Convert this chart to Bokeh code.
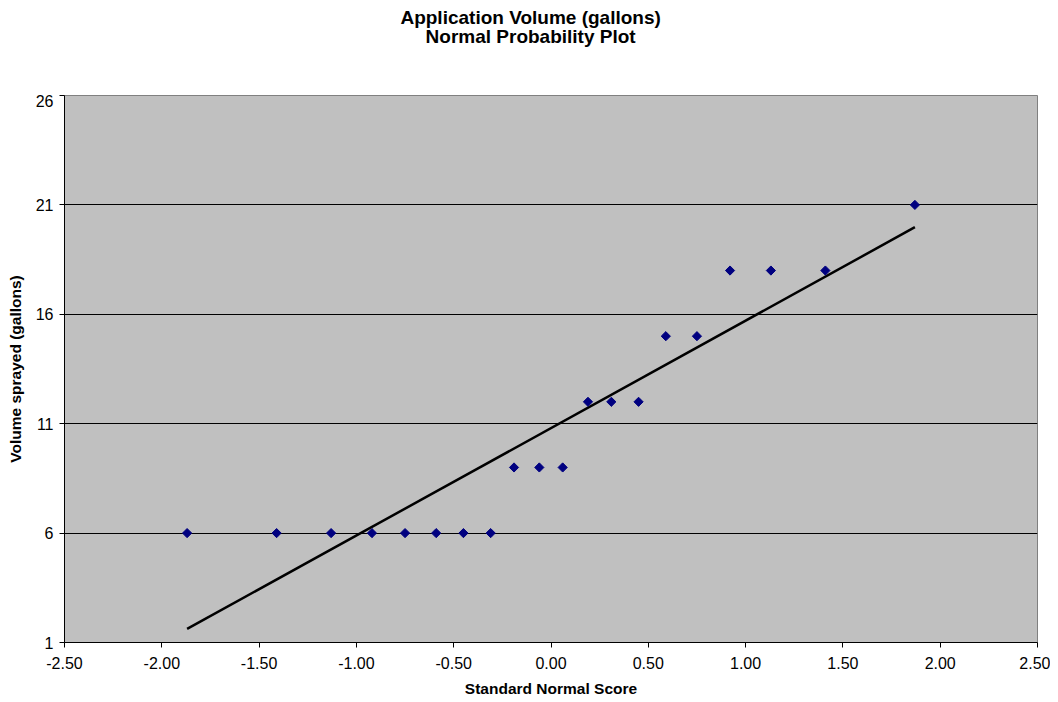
import math
from bokeh.plotting import figure
from bokeh.layouts import column
from bokeh.models import Range1d, FixedTicker, CustomJSTickFormatter
from bokeh.core.properties import value
from bokeh.embed import file_html
from bokeh.resources import INLINE

normal_score = [-1.87, -1.41, -1.13, -0.92, -0.75, -0.59, -0.45, -0.31, -0.19, -0.06,
                0.06, 0.19, 0.31, 0.45, 0.59, 0.75, 0.92, 1.13, 1.41, 1.87]
volume = [6, 6, 6, 6, 6, 6, 6, 6, 9, 9, 9, 12, 12, 12, 15, 15, 18, 18, 18, 21]
fit_x = [-1.87, 1.87]
fit_y = [1.62, 19.98]
x_ticks = [-2.5, -2.0, -1.5, -1.0, -0.5, 0.0, 0.5, 1.0, 1.5, 2.0, 2.5]
y_ticks = [1, 6, 11, 16, 21, 26]
title_lines = ["Application Volume (gallons)", "Normal Probability Plot"]

FONT = "Liberation Sans"
W = 1050
TH = 94          # height of the title strip
PH = 607         # height of the plot figure

# ---- title strip ----
t = figure(width=W, height=TH, output_backend="svg", toolbar_location=None,
           x_range=Range1d(0, W), y_range=Range1d(0, TH),
           x_axis_type=None, y_axis_type=None, min_border=0)
t.outline_line_color = None
t.background_fill_color = "white"
t.border_fill_color = "white"
t.grid.grid_line_color = None
t.text(x=[503, 503], y=[TH - 17, TH - 36], text=title_lines,
       text_align="center", text_baseline="alphabetic",
       text_font=value(FONT), text_font_size="19px", text_font_style="bold",
       text_color="black")

# ---- main plot ----
p = figure(width=W, height=PH, output_backend="svg", toolbar_location=None,
           x_range=Range1d(-2.5, 2.5), y_range=Range1d(1, 26),
           min_border_left=64, min_border_right=13, min_border_top=1, min_border_bottom=59)

p.background_fill_color = "#C0C0C0"
p.border_fill_color = "white"
p.outline_line_color = "#808080"
p.outline_line_width = 1

p.line(fit_x, fit_y, line_color="black", line_width=2.5)
p.scatter(normal_score, volume, marker="square", angle=math.pi / 4, size=6.5,
          fill_color="#000080", line_color="#000080")

p.xaxis.ticker = FixedTicker(ticks=x_ticks)
p.yaxis.ticker = FixedTicker(ticks=y_ticks)
p.xaxis.formatter = CustomJSTickFormatter(code="return tick.toFixed(2);")
p.xaxis.minor_tick_line_color = None
p.yaxis.minor_tick_line_color = None
for ax in (p.xaxis, p.yaxis):
    ax.axis_line_color = "black"
    ax.major_tick_line_color = "black"
    ax.major_tick_in = 0
    ax.major_tick_out = 5
    ax.major_label_text_font = FONT
    ax.major_label_text_font_size = "16px"
    ax.major_label_text_color = "black"
    ax.axis_label_text_font = FONT
    ax.axis_label_text_font_size = "15.5px"
    ax.axis_label_text_font_style = "bold"
    ax.axis_label_text_color = "black"

p.xaxis.axis_label = "Standard Normal Score"
p.yaxis.axis_label = "Volume sprayed (gallons)"
p.xaxis.major_label_standoff = 9
p.yaxis.major_label_standoff = 6
p.xaxis.axis_label_standoff = 8
p.yaxis.axis_label_standoff = 9

p.xgrid.grid_line_color = None
p.ygrid.grid_line_color = "black"
p.ygrid.grid_line_width = 1

layout = column(t, p, spacing=0)
open("out.html", "w").write(file_html(layout, INLINE))
